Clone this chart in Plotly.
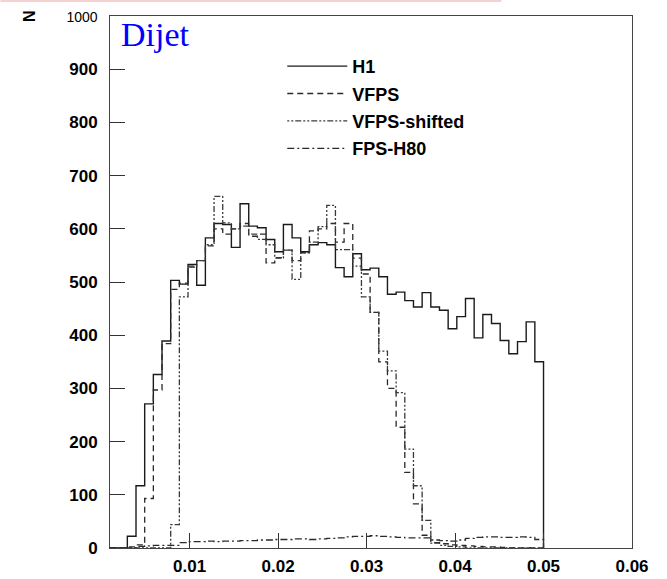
import numpy as np
import plotly.graph_objects as go

# ---- histogram binning (ROOT-style: 50 bins from 0.001 to 0.050) ----
HIST_XMIN = 0.001
HIST_XMAX = 0.050
NBINS = 50

# ---- data: counts per bin ----
h1 = [0, 0, 22, 117, 271, 326, 389, 503, 496, 533, 494, 583, 610, 608, 565, 647,
      605, 602, 580, 557, 608, 583, 557, 570, 574, 570, 527, 510, 553, 523, 526,
      510, 477, 481, 465, 453, 480, 453, 447, 412, 435, 469, 395, 439, 422, 390,
      365, 388, 425, 350]
vfps = [0, 0, 2, 6, 93, 297, 384, 486, 498, 528, 540, 568, 600, 590, 600, 610,
        586, 590, 536, 546, 560, 540, 555, 596, 600, 610, 575, 610, 545, 515, 443,
        350, 300, 227, 142, 83, 24, 10, 8, 6, 5, 4, 3, 2, 2, 1, 0, 0, 0, 0]
vfps_shifted = [0, 0, 0, 0, 0, 0, 0, 44, 472, 530, 540, 570, 661, 611, 600, 605,
                590, 580, 570, 545, 560, 505, 555, 575, 604, 644, 561, 561, 530,
                472, 443, 370, 333, 292, 186, 117, 52, 9, 5, 3, 2, 0, 0, 0, 0, 0,
                0, 0, 0, 0]
fps_h80 = [0, 0, 0, 3, 4, 5, 5, 5, 10, 12, 12, 13, 12, 13, 13, 14, 14, 15, 15, 16,
           16, 17, 17, 16, 17, 18, 19, 21, 22, 22, 23, 22, 21, 20, 19, 19, 19, 15,
           14, 13, 15, 18, 20, 21, 21, 20, 20, 21, 20, 16]

series_names = ["H1", "VFPS", "VFPS-shifted", "FPS-H80"]
x_ticks = [0.01, 0.02, 0.03, 0.04, 0.05, 0.06]
x_tick_labels = ["0.01", "0.02", "0.03", "0.04", "0.05", "0.06"]
y_ticks = [0, 100, 200, 300, 400, 500, 600, 700, 800, 900, 1000]
y_tick_labels = ["0", "100", "200", "300", "400", "500", "600", "700", "800", "900", "1000"]

edges = np.linspace(HIST_XMIN, HIST_XMAX, NBINS + 1)


def step_xy(vals):
    vals = list(vals)
    xs = [edges[0]] + list(edges) + [edges[-1]]
    ys = [0] + vals + [vals[-1]] + [0]
    return xs, ys


styles = [
    dict(color="#1a1a1a", width=1.4, dash="solid"),
    dict(color="#2a2a2a", width=1.3, dash="6px,4px"),
    dict(color="#3a3a3a", width=1.3, dash="2px,2px,2px,2px,6px,2px"),
    dict(color="#2a2a2a", width=1.3, dash="7px,3px,2px,3px"),
]

fig = go.Figure()
for name, vals, st in zip(series_names, [h1, vfps, vfps_shifted, fps_h80], styles):
    xs, ys = step_xy(vals)
    fig.add_trace(go.Scatter(x=xs, y=ys, mode="lines", name=name,
                             line=dict(shape="hv", **st), legendgroup=name))

yt = []
for v, t in zip(y_ticks, y_tick_labels):
    if v == 1000:
        yt.append("<span style='font-size:14px'>" + t + "</span>")
    else:
        yt.append("<b>" + t + "</b>")

fig.update_layout(
    width=667, height=579,
    margin=dict(l=110, r=35, t=16, b=31),
    paper_bgcolor="white", plot_bgcolor="white",
    showlegend=True,
    legend=dict(x=0.33, y=0.94, xanchor="left", yanchor="top",
                bgcolor="rgba(0,0,0,0)", traceorder="grouped", tracegroupgap=1,
                font=dict(family="Liberation Sans", size=18, color="black", weight="bold"),
                itemwidth=60),
    xaxis=dict(range=[0.001, 0.06], tickvals=x_ticks,
               ticktext=["<b>" + t + "</b>" for t in x_tick_labels],
               showgrid=False, zeroline=False, showline=True, mirror=True,
               linecolor="#444", linewidth=1, ticks="inside", ticklen=15,
               tickcolor="#333", tickwidth=1, automargin=False,
               tickfont=dict(family="Liberation Sans", size=17, color="black"),
               ticklabelstandoff=3),
    yaxis=dict(range=[0, 1000], tickvals=y_ticks, ticktext=yt,
               showgrid=False, zeroline=False, showline=True, mirror=True,
               linecolor="#444", linewidth=1, ticks="inside", ticklen=15,
               tickcolor="#333", tickwidth=1, automargin=False,
               tickfont=dict(family="Liberation Sans", size=17, color="black"),
               ticklabelstandoff=8),
    annotations=[
        dict(text="Dijet", xref="paper", yref="paper", x=0.018, y=0.965,
             xanchor="left", yanchor="middle", showarrow=False,
             font=dict(family="Liberation Serif", size=34, color="#0000ff")),
        dict(text="<b>N</b>", xref="paper", yref="paper", x=-0.155, y=1.0,
             xanchor="center", yanchor="middle", showarrow=False, textangle=-90,
             font=dict(family="Liberation Sans", size=16, color="black")),
    ],
    shapes=[
        dict(type="line", xref="paper", yref="paper", x0=-0.21, x1=0.75,
             y0=1.028, y1=1.028, line=dict(color="rgba(240,150,150,0.45)", width=2)),
    ],
)

fig.write_html("out.html")
